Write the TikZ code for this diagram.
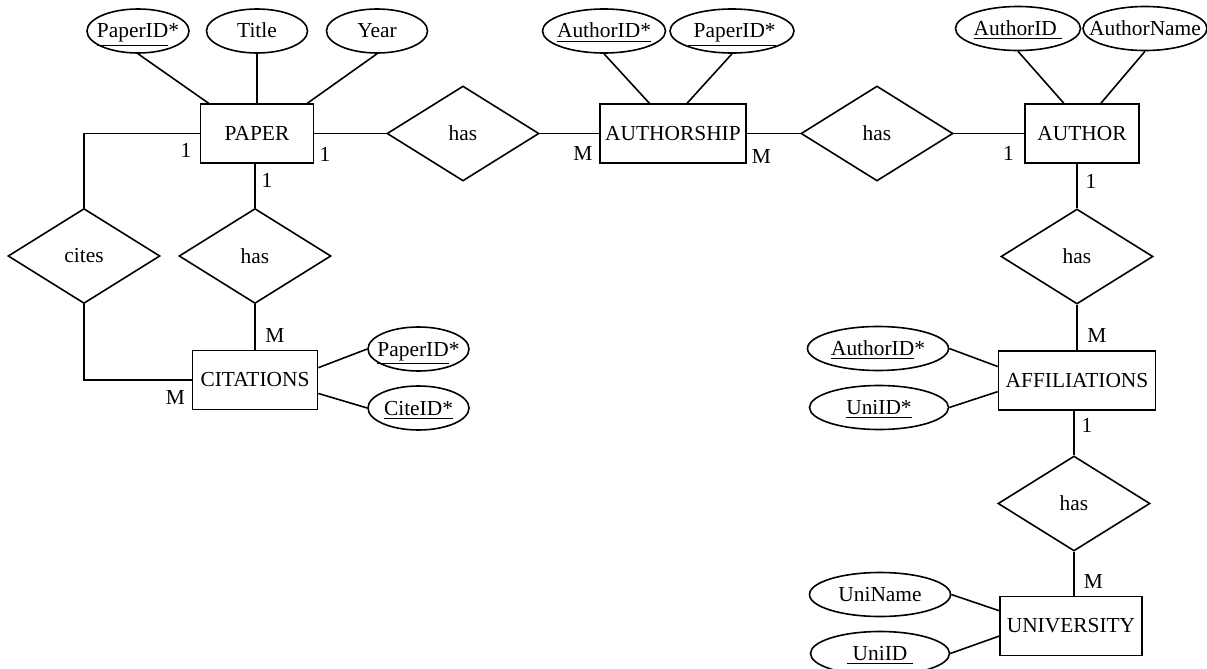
\documentclass[tikz,border=0pt]{standalone}
\usepackage{fontspec}
\setmainfont{Liberation Serif}
\usetikzlibrary{shapes.geometric, positioning}

\newcommand{\ename}[1]{\makebox[0pt]{\rule[-3pt]{0pt}{13pt}\smash{#1}}}

\begin{document}
\begin{tikzpicture}[node distance=2cm, on grid, line width=0.8pt,
	font=\fontsize{10.7}{12.8}\selectfont,
	entity/.style={rectangle, draw, inner sep=2pt, minimum height=29.5pt, minimum width=#1},
	attr/.style={ellipse, draw, inner sep=0pt, minimum height=22pt, minimum width=#1},
	rel/.style={diamond, draw, inner sep=0pt, minimum width=76pt, minimum height=47.5pt},
	card/.style={inner sep=0pt}]
	\useasboundingbox (0,0) rectangle (603.5pt,-334.5pt);

	% paper side
	\node [entity=56.5pt] (paper) at (128.5pt,-66.75pt) {PAPER};
	\node [attr=51pt] (pid) [above left=51.25pt and 59.5pt of paper] {\ename{\underline{PaperID}*}};
	\node [attr=50.5pt] (title) [above=51.25pt of paper] {\ename{Title}};
	\node [attr=50.5pt] (year) [above right=51.25pt and 60pt of paper] {\ename{Year}};
	\node [rel] (hasA) [right=103pt of paper] {has};
	\node [rel] (cites) [below left=61.25pt and 86.5pt of paper] {cites};
	\node [rel] (hasC) [below=61.25pt of paper, xshift=-1pt] {has};
	\node [entity=62.5pt] (citations) [below=62pt of hasC] {CITATIONS};
	\node [attr=50.5pt] (cpid) [above right=15.5pt and 81.75pt of citations] {\ename{\underline{PaperID}*}};
	\node [attr=50.5pt] (ccid) [below right=14pt and 81.75pt of citations] {\ename{\underline{CiteID*}}};

	% authorship and author
	\node [entity=73pt] (authorship) [right=105pt of hasA] {AUTHORSHIP};
	\node [attr=61.5pt] (aid1) [above left=51.25pt and 34.5pt of authorship] {\ename{\underline{AuthorID*}}};
	\node [attr=62pt] (pid2) [above right=51.25pt and 29.5pt of authorship] {\ename{\underline{\ PaperID*}}};
	\node [rel] (hasB) [right=102pt of authorship] {has};
	\node [entity=57pt] (author) [right=102.5pt of hasB] {AUTHOR};
	\node [attr=62.5pt] (aid2) [above left=52.5pt and 32pt of author] {\ename{\underline{AuthorID\ }}};
	\node [attr=62pt] (aname) [above right=52.5pt and 31.5pt of author] {\ename{AuthorName}};

	% affiliations and university
	\node [rel] (hasD) [below=61.5pt of author, xshift=-2.5pt] {has};
	\node [entity=78.5pt] (affil) [below=62pt of hasD] {AFFILIATIONS};
	\node [attr=70.5pt] (faid) [above left=16pt and 99.5pt of affil] {\ename{\underline{AuthorID}*}};
	\node [attr=69.5pt] (fuid) [below left=13.5pt and 99pt of affil] {\ename{\underline{UniID*}}};
	\node [rel] (hasE) [below=61.5pt of affil, xshift=-1.5pt] {has};
	\node [entity=71pt] (univ) [below=61.25pt of hasE, xshift=-1.5pt] {UNIVERSITY};
	\node [attr=70.5pt] (uname) [above left=15.75pt and 95.5pt of univ] {\ename{UniName}};
	\node [attr=69.5pt] (uid) [below left=13.75pt and 95.5pt of univ] {\ename{\underline{\ UniID\ }}};

	% cardinalities
	\node [card] (c1) [below left=8.25pt and 35.5pt of paper] {1};
	\node [card] (c2) [below right=10.25pt and 34pt of paper] {1};
	\node [card] (c3) [below right=23.25pt and 5pt of paper] {1};
	\node [card] (c4) [above right=22.5pt and 10pt of citations] {M};
	\node [card] (c5) [below left=8.5pt and 39.75pt of citations] {M};
	\node [card] (c6) [below left=10pt and 45pt of authorship] {M};
	\node [card] (c7) [below right=11.25pt and 44.25pt of authorship] {M};
	\node [card] (c8) [below left=10pt and 36.75pt of author] {1};
	\node [card] (c9) [below right=23.75pt and 4.5pt of author] {1};
	\node [card] (c10) [above right=22.5pt and 10pt of affil] {M};
	\node [card] (c11) [below right=22.5pt and 5pt of affil] {1};
	\node [card] (c12) [above right=22.25pt and 11.25pt of univ] {M};

	% connectors
	\draw (pid.south) -- (paper.148);
	\draw (title) -- (paper);
	\draw (year.south) -- (paper.31);
	\draw (paper) -- (hasA) -- (authorship);
	\draw (authorship) -- (hasB) -- (author);
	\draw (aid1.south) -- (authorship.128);
	\draw (pid2.south) -- (authorship.65);
	\draw (aid2.south) -- (author.121);
	\draw (aname.south) -- (author.58);
	\draw (paper.west) -| (cites.north);
	\draw (cites.south) |- (citations.west);
	\draw (hasC |- paper.south) -- (hasC);
	\draw (hasC) -- (hasC |- citations.north);
	\draw (cpid.west) -- (citations.11);
	\draw (ccid.west) -- (citations.-12);
	\draw (hasD |- author.south) -- (hasD);
	\draw (hasD) -- (affil);
	\draw (faid.east) -- (affil.170);
	\draw (fuid.east) -- (affil.188);
	\draw (hasE |- affil.south) -- (hasE);
	\draw (hasE) -- (hasE |- univ.north);
	\draw (uname.east) -- (univ.168);
	\draw (uid.east) -- (univ.188);
\end{tikzpicture}
\end{document}
